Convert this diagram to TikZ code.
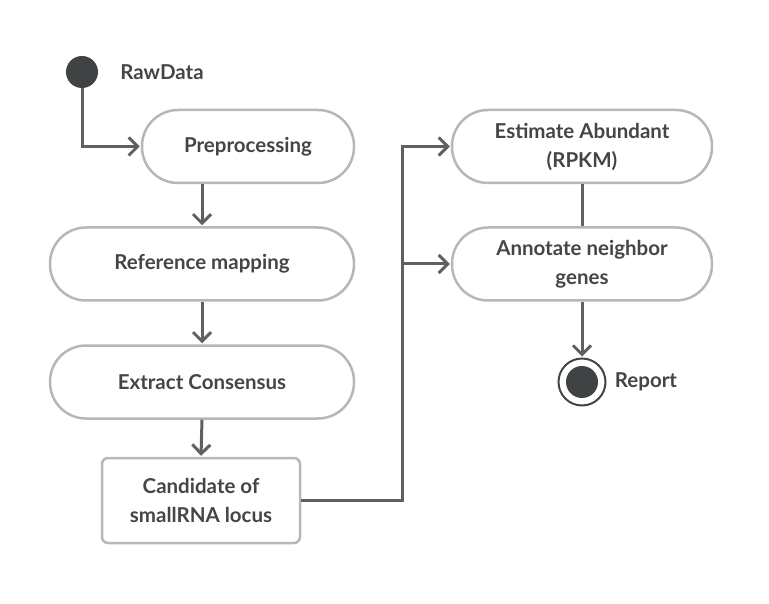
\documentclass[tikz,border=0pt]{standalone}
\usepackage{fontspec}
\setsansfont{Lato}
\usepackage{tikz}
\usetikzlibrary{calc,shapes,arrows.meta}
\definecolor{boxgray}{HTML}{B4B8B8}
\definecolor{linegray}{HTML}{5E6161}
\definecolor{textgray}{HTML}{434646}
\tikzstyle{stagebox}=[rectangle,rounded corners=36pt,draw=boxgray,line width=2.5pt,
                      fill=white,text=textgray,align=center,minimum height=73pt,
                      font=\sffamily\bfseries\fontsize{20.5}{29}\selectfont]
\tikzstyle{resultbox}=[stagebox,rounded corners=6pt,minimum height=85pt]
\tikzstyle{flow}=[draw=linegray,line width=3pt,shorten >=1pt,
                  -{Straight Barb[length=9pt,width=18pt,line width=3pt]}]
\tikzstyle{plainflow}=[draw=linegray,line width=3pt]
\tikzstyle{tag}=[text=textgray,font=\sffamily\bfseries\fontsize{20.5}{24}\selectfont]
\newcommand\pipex{202}
\newcommand\sidex{582}

\begin{document}
\begin{tikzpicture}[x=1pt,y=-1pt]
    \useasboundingbox (0,0) rectangle (769,604);
    % start / end markers
    \node [circle,fill=textgray!95!black,minimum size=32pt,inner sep=0pt] (start) at (82,72) {};
    \node [tag] (rawdata) at (162,72) {RawData};
    \node [circle,draw=textgray,line width=2pt,fill=white,minimum size=47pt,inner sep=0pt] (finish) at (\sidex,382) {};
    \node [circle,fill=textgray!95!black,minimum size=32pt,inner sep=0pt] (finish dot) at (\sidex,382) {};
    \node [tag] (report) at (646,382) {Report};
    % left column
    \node [stagebox,minimum width=212pt] (preprocessing) at (248,146.5) {Preprocessing};
    \node [stagebox,minimum width=304pt] (mapping) at (\pipex,264) {Reference mapping};
    \node [stagebox,minimum width=304pt] (consensus) at (\pipex,382) {Extract Consensus};
    \node [resultbox,minimum width=198pt] (candidate) at (201,500.5) {Candidate of\\smallRNA locus};
    % right column
    \node [stagebox,minimum width=260pt] (abundance) at (\sidex,146.5) {Estimate Abundant\\(RPKM)};
    \node [stagebox,minimum width=260pt] (annotate) at (\sidex,264) {Annotate neighbor\\genes};
    \coordinate (split) at (402,264);
    % connectors
    \draw [flow] (start.south) |- (preprocessing.west);
    \draw [flow] (preprocessing.south -| mapping.north) -- (mapping.north);
    \draw [flow] (mapping.south) -- (consensus.north);
    \draw [flow] (consensus.south) -- (candidate.north);
    \draw [plainflow] (candidate.east) -| (split);
    \draw [flow] (split) |- (abundance.west);
    \draw [flow] (split) -- (annotate.west);
    \draw [plainflow] (abundance.south) -- (annotate.north);
    \draw [flow] (annotate.south) -- (finish.north);
\end{tikzpicture}
\end{document}
